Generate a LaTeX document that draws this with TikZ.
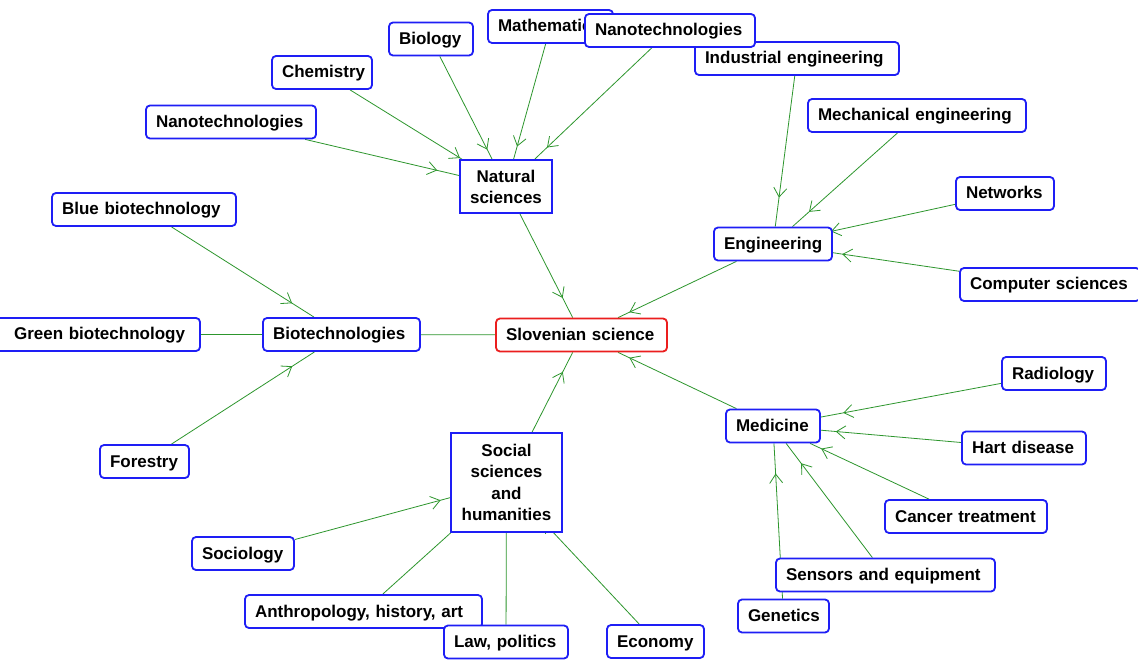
\documentclass[tikz,border=0pt]{standalone}
\usepackage{fontspec}
\setmainfont{Liberation Sans}
\usetikzlibrary{arrows.meta,decorations.markings}
\definecolor{boxblue}{RGB}{30,30,245}
\definecolor{boxred}{RGB}{235,30,30}
\definecolor{linkgreen}{RGB}{45,150,45}
\pgfdeclarelayer{bg}
\pgfdeclarelayer{links}
\pgfsetlayers{bg,links,main}
\tikzset{
  topic/.style={draw=boxblue, line width=1.8pt, rounded corners=4pt, fill=white,
    font=\fontsize{17}{22}\selectfont\bfseries, inner xsep=10pt, inner ysep=0pt,
    align=left, minimum height=33pt, text height=13pt, text depth=2pt},
  field/.style={draw=boxblue, line width=1.8pt, fill=white,
    font=\fontsize{17}{22}\selectfont\bfseries, inner sep=0pt, align=center},
  root/.style={topic, draw=boxred},
  link/.style={draw=linkgreen, line width=0.8pt},
  linktip/.style={color=linkgreen, line width=0.8pt, postaction={decorate},
    decoration={markings, mark=at position 0.75 with
      {\arrow{Straight Barb[length=9pt,width=13pt]}}}}
}
\begin{document}
\begin{tikzpicture}[x=1pt,y=-1pt]
\begin{pgfonlayer}{bg}
  \fill[white] (0,0) rectangle (1138,660);
\end{pgfonlayer}
\useasboundingbox (0,0) rectangle (1138,660);

% hub fields
\node[root, text width=151pt] (slo) at (581.5,335) {Slovenian science};
\node[field, minimum width=92pt, minimum height=53pt] (nat) at (506,186.5) {Natural\\[-1pt]sciences};
\node[field, minimum width=111pt, minimum height=99pt] (soc) at (506.5,482.5) {Social\\[-0.5pt]sciences\\[-0.5pt]and\\[-0.5pt]humanities};
\node[topic, text width=98pt] (eng) at (773,244) {Engineering};
\node[topic, text width=137pt] (biot) at (341.5,334.5) {Biotechnologies};
\node[topic, text width=74pt] (med) at (773,426) {Medicine};

% natural sciences
\node[topic, text width=64pt] (bio) at (431,39) {Biology};
\node[topic, text width=105pt] (math) at (550.5,26.5) {Mathematics};
\node[topic, text width=184pt] (indeng) at (797,58.5) {Industrial engineering};
\node[topic, text width=150pt] (nanoT) at (670,30.5) {Nanotechnologies};
\node[topic, text width=80pt] (chem) at (322,72.5) {Chemistry};
\node[topic, text width=150pt] (nanoL) at (231,122) {Nanotechnologies};

% engineering
\node[topic, text width=198pt] (mech) at (917,115.5) {Mechanical engineering};
\node[topic, text width=78pt] (net) at (1005,193.5) {Networks};
\node[topic, text width=160pt] (cs) at (1050,284.5) {Computer sciences};

% biotechnologies
\node[topic, text width=164pt] (blue) at (144,209.5) {Blue biotechnology};
\node[topic, text width=186pt, inner xsep=15pt, align=right] (green) at (92,334.5) {Green biotechnology};
\node[topic, text width=69pt] (forest) at (144.5,461.5) {Forestry};

% medicine
\node[topic, text width=84pt] (rad) at (1054,373.5) {Radiology};
\node[topic, text width=104pt] (hart) at (1024,448) {Hart disease};
\node[topic, text width=142pt] (cancer) at (966,516.5) {Cancer treatment};
\node[topic, text width=199pt] (sensors) at (885.5,575) {Sensors and equipment};
\node[topic, text width=71pt] (genetics) at (783.5,616) {Genetics};

% social sciences and humanities
\node[topic, text width=82pt] (sociol) at (243,553.5) {Sociology};
\node[topic, text width=217pt] (anthro) at (363.5,611.5) {Anthropology, history, art};
\node[topic, text width=104pt] (law) at (506,642) {Law, politics};
\node[topic, text width=77pt] (econ) at (655.5,641.5) {Economy};

% connectors: the line runs centre to centre, the barb sits three quarters of the way
\begin{pgfonlayer}{links}
\foreach \s/\t in {bio/nat, math/nat, nanoT/nat, chem/nat, nanoL/nat,
                   indeng/eng, mech/eng, net/eng, cs/eng,
                   blue/biot, green/biot, forest/biot,
                   rad/med, hart/med, cancer/med, sensors/med, genetics/med,
                   sociol/soc, anthro/soc, law/soc, econ/soc,
                   nat/slo, eng/slo, biot/slo, soc/slo, med/slo} {
  \draw[link] (\s) -- (\t);
  \path[linktip] (\s.center) -- (\t.center);
}
\end{pgfonlayer}
\end{tikzpicture}
\end{document}
